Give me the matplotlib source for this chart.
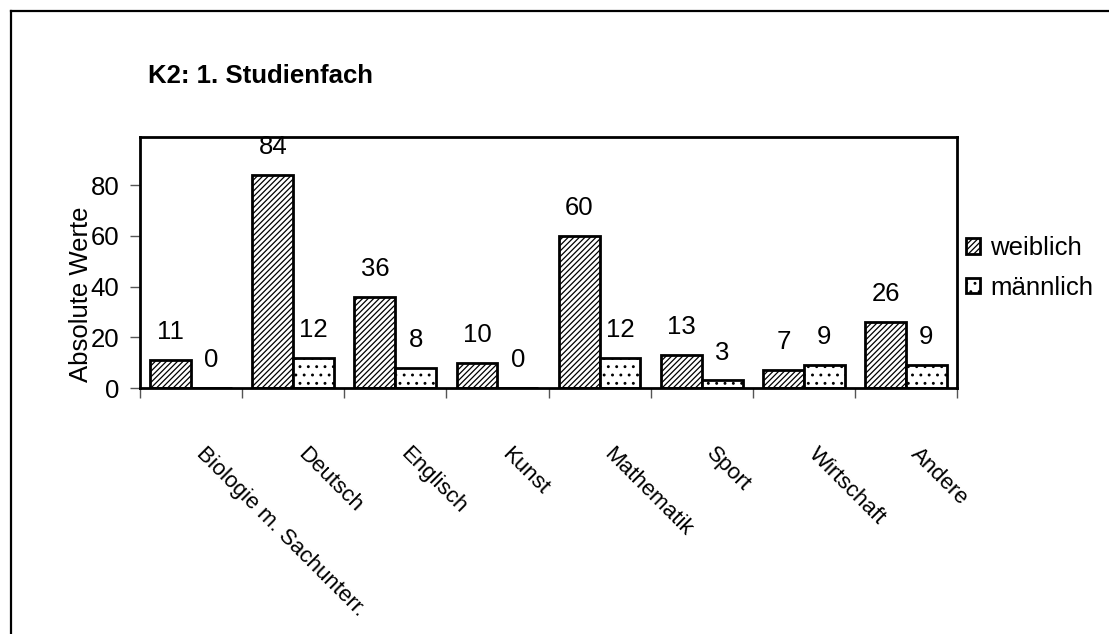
import matplotlib
matplotlib.use("Agg")
import matplotlib.pyplot as plt
from matplotlib.lines import Line2D
import numpy as np

categories = ["Biologie m. Sachunterr.", "Deutsch", "Englisch", "Kunst",
              "Mathematik", "Sport", "Wirtschaft", "Andere"]
weiblich = [11, 84, 36, 10, 60, 13, 7, 26]
maennlich = [0, 12, 8, 0, 12, 3, 9, 9]
series_names = ["weiblich", "männlich"]
title = "K2: 1. Studienfach"
ylabel = "Absolute Werte"
yticks = [0, 20, 40, 60, 80]

plt.rcParams['font.family'] = ['Liberation Sans', 'DejaVu Sans']
plt.rcParams['hatch.linewidth'] = 0.9

W, H = 1109, 634
fig = plt.figure(figsize=(W / 100, H / 100), dpi=100)
ax = fig.add_axes([140 / W, 1 - 388 / H, (957 - 140) / W, (388 - 137) / H])

x = np.arange(len(categories))
bw = 0.4
b1 = ax.bar(x - bw / 2, weiblich, bw, color='white', edgecolor='black',
            hatch='//////', linewidth=2, label=series_names[0])
b2 = ax.bar(x + bw / 2, maennlich, bw, color='white', edgecolor='black',
            hatch='..', linewidth=2, label=series_names[1])
for bars, vals in ((b1, weiblich), (b2, maennlich)):
    for rect, v in zip(bars, vals):
        ax.annotate(str(v), (rect.get_x() + rect.get_width() / 2, v),
                    xytext=(0, 15), textcoords='offset points',
                    ha='center', va='baseline', fontsize=18.5)

ax.set_xlim(-0.5, len(categories) - 0.5)
ax.set_ylim(0, 99)
ax.set_yticks(yticks)
ax.set_yticklabels([str(t) for t in yticks], fontsize=18.5)
ax.set_xticks(np.arange(len(categories) + 1) - 0.5)
ax.set_xticklabels([])
ax.tick_params(axis='x', direction='out', length=7, width=1, color='#555555')
ax.tick_params(axis='y', direction='out', length=7, width=1, color='#555555', pad=8)
for s in ax.spines.values():
    s.set_linewidth(2)

for i, c in enumerate(categories):
    ax.text(i + 0.15, -0.22, c, transform=ax.get_xaxis_transform(),
            rotation=-45, rotation_mode='anchor', ha='left', va='top',
            fontsize=16)

ax.set_ylabel(ylabel, fontsize=18.5)
ax.yaxis.set_label_coords((93 - 140) / 817, 0.375)

fig.text(148 / W, 1 - 83 / H, title, fontsize=18.5, fontweight='bold',
         ha='left', va='baseline')

fig.legend(handles=[b1, b2], loc='center left',
           bbox_to_anchor=(966 / W, 1 - 268 / H), frameon=False,
           fontsize=18.5, handlelength=0.55, handleheight=0.55,
           handletextpad=0.4, labelspacing=0.6, borderpad=0, borderaxespad=0)

# outer border (left and top visible)
fig.add_artist(Line2D([11 / W, 11 / W], [0, 1 - 11 / H], transform=fig.transFigure,
                      color='black', linewidth=1.6))
fig.add_artist(Line2D([11 / W, 1], [1 - 11 / H, 1 - 11 / H], transform=fig.transFigure,
                      color='black', linewidth=1.6))

fig.savefig("out.png", dpi=100)
